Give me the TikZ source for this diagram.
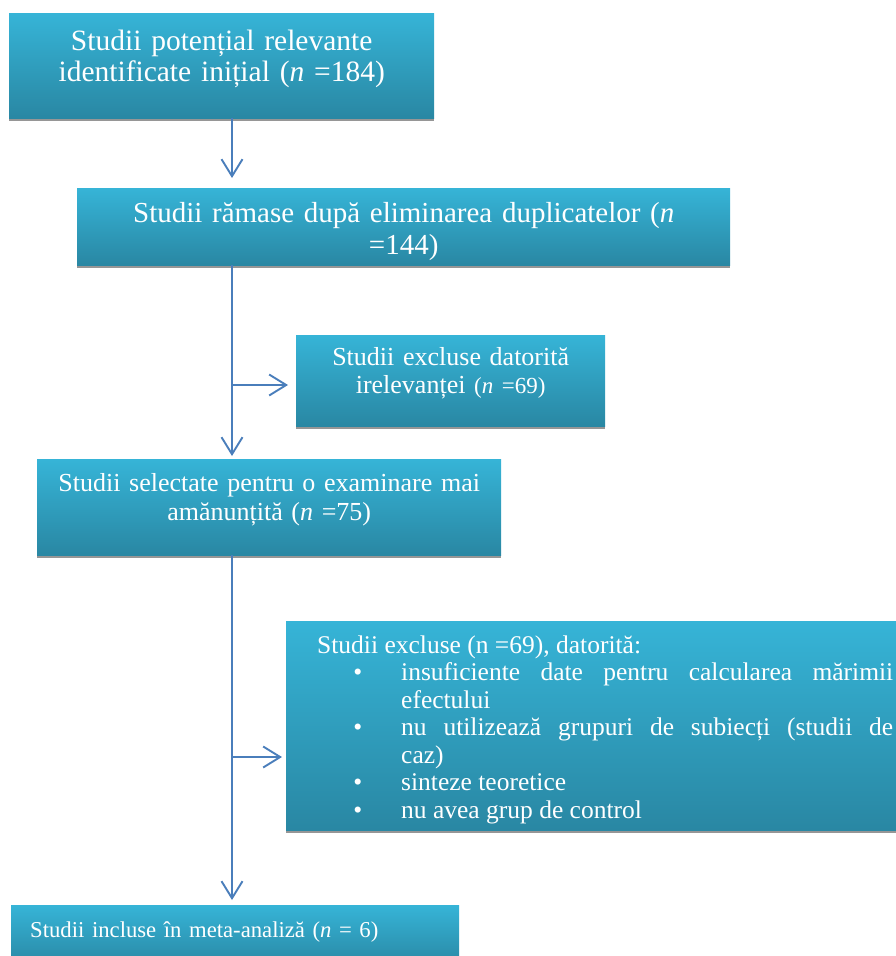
\documentclass[tikz,border=0pt]{standalone}
\usepackage{fontspec}
\setmainfont{Liberation Serif}
\usetikzlibrary{arrows.meta, shadows}

\definecolor{boxtop}{RGB}{54,180,215}
\definecolor{boxbot}{RGB}{41,135,163}
\definecolor{boxshadow}{RGB}{150,150,150}
\definecolor{arrowblue}{RGB}{74,126,187}

\begin{document}
\begin{tikzpicture}[
x=1pt, y=-1pt,
box/.style={rectangle, inner xsep=0pt, inner ysep=0pt, anchor=north west,
  text=white, align=center, top color=boxtop, bottom color=boxbot,
  general shadow={fill=boxshadow, shadow yshift=-3pt}},
arrow/.style={-{Straight Barb[length=17pt,width=21pt]}, line width=1.9pt, draw=arrowblue}
]
\useasboundingbox (0,0) rectangle (896,956);
\clip (0,0) rectangle (896,956);

% boxes
\node[box, text width=425pt, text height=37pt, text depth=68pt,
  font=\fontsize{29.5}{31}\selectfont] (A) at (9,13)
  {Studii potențial relevante\\ identificate inițial (\textit{n} =184)};
\node[box, text width=653pt, text height=34pt, text depth=43pt,
  font=\fontsize{29}{32}\selectfont] (B) at (77,188)
  {Studii rămase după eliminarea duplicatelor (\textit{n}\\ =144)};
\node[box, text width=309pt, text height=30pt, text depth=61pt,
  font=\fontsize{26}{28}\selectfont] (C) at (296,335)
  {Studii excluse datorită\\ irelevanței {\fontsize{23}{28}\selectfont(\textit{n} =69)}};
\node[box, text width=464pt, text height=32pt, text depth=64pt,
  font=\fontsize{26}{29}\selectfont] (D) at (37,459)
  {Studii selectate pentru o examinare mai\\ amănunțită (\textit{n} =75)};
\node[box, inner xsep=31pt, text width=576pt, text height=32pt, text depth=177pt,
  align=justify, font=\fontsize{25.5}{27.5}\selectfont] (E) at (286,621)
  {\hyphenpenalty=10000 Studii excluse (n =69), datorită:
  \begin{list}{\textbullet}{\setlength{\leftmargin}{84pt}\setlength{\labelwidth}{10pt}%
    \setlength{\labelsep}{39pt}\setlength{\itemsep}{0pt}\setlength{\parsep}{0pt}%
    \setlength{\topsep}{0pt}\setlength{\partopsep}{0pt}}
  \item insuficiente date pentru calcularea mărimii\linebreak efectului
  \item nu utilizează grupuri de subiecți (studii de\linebreak caz)
  \item sinteze teoretice
  \item nu avea grup de control
  \end{list}};
\node[box, inner xsep=19pt, text width=410pt, text height=32pt, text depth=30pt,
  align=left, font=\fontsize{22.7}{26}\selectfont] (F) at (11,905)
  {Studii incluse în meta-analiză (\textit{n} = 6)};

% connectors
\coordinate (spine) at (232,0);
\coordinate (fork1) at (232,385);
\coordinate (fork2) at (232,757);
\draw[arrow, shorten >=10pt] (A.south -| spine) -- (B.north -| spine);
\draw[arrow, shorten >=3pt] (B.south -| spine) -- (D.north -| spine);
\draw[arrow, shorten >=8pt] (fork1) -- (C.west |- fork1);
\draw[arrow, shorten >=5pt] (D.south -| spine) -- (F.north -| spine);
\draw[arrow, shorten >=4pt] (fork2) -- (E.west |- fork2);
\end{tikzpicture}
\end{document}
